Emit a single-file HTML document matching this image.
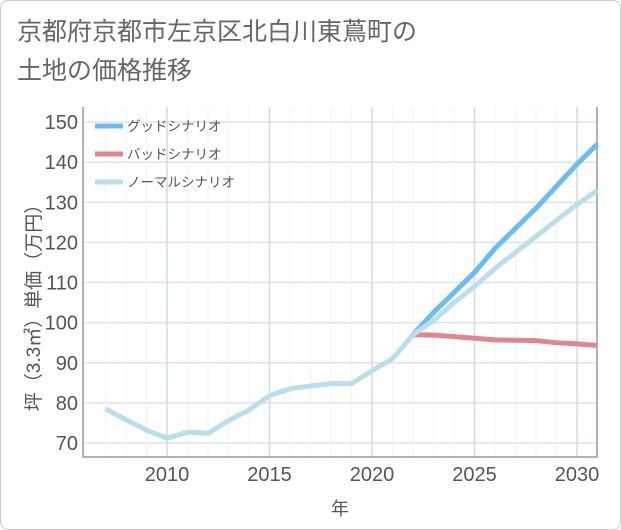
<!DOCTYPE html>
<html><head><meta charset="utf-8"><style>
body{margin:0;background:#fff;font-family:"Liberation Sans","Noto Sans CJK JP",sans-serif}
#wrap{position:relative;width:619px;height:528px;border:1px solid #ccc;border-radius:8px;overflow:hidden}
</style></head><body>
<div id="wrap">
<svg id="c" width="621" height="530" style="position:absolute;left:-1px;top:-1px">
<text x="17" y="40" font-size="25" fill="#666">京都府京都市左京区北白川東蔦町の</text>
<text x="17" y="79" font-size="25" fill="#666">土地の価格推移</text>
</svg>
</div>
<script>
const years=[2007,2008,2009,2010,2011,2012,2013,2014,2015,2016,2017,2018,2019,2020,2021,2022];
const hist=[78.5,75.8,73.2,71.2,72.7,72.4,75.6,78.2,81.8,83.5,84.2,84.8,84.8,88,91,97];
const futYears=[2022,2023,2024,2025,2026,2027,2028,2029,2030,2031];
const good=[97,102.5,107.5,112.5,118.5,123.5,128.5,134,139.5,144.5];
const bad=[97,96.9,96.5,96.1,95.7,95.6,95.5,95,94.7,94.3];
const normal=[97,100.5,105,109,113.5,117.5,121.5,125.5,129.5,133];
const yTicks=[70,80,90,100,110,120,130,140,150];
const xTicks=[2010,2015,2020,2025,2030];
const NS='http://www.w3.org/2000/svg',svg=document.getElementById('c');
const L=83,R=597,T=107,B=457;
const X=y=>167+(y-2010)*20.5, Y=v=>443-(v-70)*(321/80);
function mk(t,a,p){const e=document.createElementNS(NS,t);for(const k in a)e.setAttribute(k,a[k]);(p||svg).appendChild(e);return e;}
const grid=mk('g',{});


yTicks.forEach(v=>{
 const l=mk('line',{x1:L,x2:R,y1:Y(v),y2:Y(v),stroke:'#dde3ec','stroke-width':1.5},grid);
 
 
 const t=mk('text',{x:L-5,y:Y(v)+7,'text-anchor':'end','font-size':20,fill:'#555'});
 t.textContent=v;
 
 
});
for(let y=2006;y<=2031;y++){
 const major=xTicks.includes(y);
 const l=mk('line',{x1:X(y),x2:X(y),y1:T,y2:B,stroke:major?'#cfdbe8':'#f1f3f6','stroke-width':major?1.5:1},grid);
 
 
}
xTicks.forEach(y=>{
 const t=mk('text',{x:X(y),y:481,'text-anchor':'middle','font-size':20,fill:'#555'});
 t.textContent=y;
 
 
});
const ax=mk('path',{d:`M${L} ${T}V${B}H${R}V${T}`,stroke:'#999',fill:'none','stroke-width':1.5});


function line(xs,vs,c,n){const p=mk('polyline',{points:xs.map((x,i)=>X(x)+','+Y(vs[i])).join(' '),fill:'none',stroke:c,'stroke-width':5,'stroke-linejoin':'round'});
 
 }
line(futYears,bad,'#e0868d','bad-scenario-line');
line(futYears,good,'#6bbcf0','good-scenario-line');
line(futYears,normal,'#badfeb','normal-scenario-line');
line(years,hist,'#badfeb','historical-line');
const leg=[['グッドシナリオ','#6bbcf0'],['バッドシナリオ','#e0868d'],['ノーマルシナリオ','#badfeb']];
leg.forEach((d,i)=>{const y=126+i*28;
 const g=mk('g',{});
 
 
 mk('line',{x1:95,x2:123,y1:y,y2:y,stroke:d[1],'stroke-width':5},g);
 const t=mk('text',{x:127,y:y+5,'font-size':13.5,fill:'#555'},g);t.textContent=d[0];});
const xt=mk('text',{x:340,y:515,'text-anchor':'middle','font-size':18,fill:'#555'});xt.textContent='年';


const yt=mk('text',{x:0,y:0,'text-anchor':'middle','font-size':19,fill:'#555',transform:'translate(40,303) rotate(-90)'});yt.textContent='坪（3.3㎡）単価（万円）';


</script>
</body></html>
